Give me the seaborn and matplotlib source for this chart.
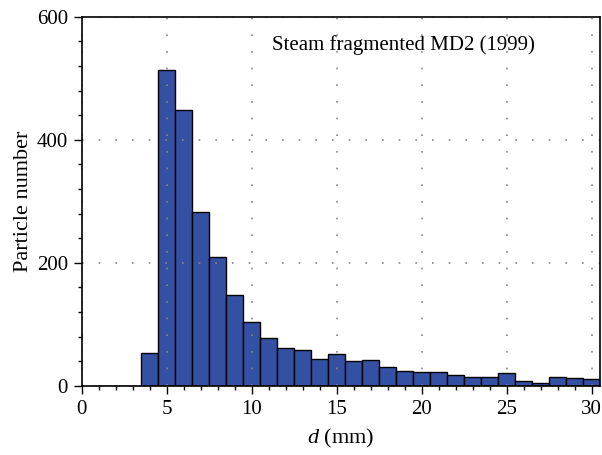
import numpy as np
import pandas as pd
import matplotlib
matplotlib.use("Agg")
import matplotlib.pyplot as plt
from matplotlib.ticker import MultipleLocator
import seaborn as sns

# particle size bins (mm, bin centres) and counts
d_mm = [1, 2, 3, 4, 5, 6, 7, 8, 9, 10, 11, 12, 13, 14, 15,
        16, 17, 18, 19, 20, 21, 22, 23, 24, 25, 26, 27, 28, 29, 30]
counts = [0, 0, 0, 53, 514, 448, 283, 210, 148, 104, 78, 61, 58, 44, 52,
          41, 42, 31, 24, 22, 22, 18, 14, 14, 21, 8, 4, 14, 13, 11]
label = "Steam fragmented MD2 (1999)"

df = pd.DataFrame({"d": d_mm, "n": counts})

sns.set_style("ticks")
plt.rcParams["font.family"] = ["Liberation Serif", "DejaVu Serif"]
plt.rcParams["mathtext.fontset"] = "custom"
plt.rcParams["mathtext.it"] = "Liberation Serif:italic"
plt.rcParams["mathtext.rm"] = "Liberation Serif"
plt.rcParams["text.color"] = "black"
plt.rcParams["axes.labelcolor"] = "black"
plt.rcParams["xtick.labelcolor"] = "black"
plt.rcParams["ytick.labelcolor"] = "black"

fig = plt.figure(figsize=(6.02, 4.55), dpi=100)
ax = fig.add_axes([0.136, 0.152, 0.861, 0.811])

sns.histplot(data=df, x="d", weights="n", discrete=True,
             color="#3450a2", alpha=1, edgecolor="black", linewidth=1.0, ax=ax)

ax.set_xlim(0, 30.5)
ax.set_ylim(0, 600)
ax.xaxis.set_major_locator(MultipleLocator(5))
ax.xaxis.set_minor_locator(MultipleLocator(1))
ax.yaxis.set_major_locator(MultipleLocator(200))
ax.yaxis.set_minor_locator(MultipleLocator(40))
ax.tick_params(which="major", direction="out", length=6, width=1, labelsize=15,
               color="black", labelcolor="black", pad=4)
ax.tick_params(which="minor", direction="out", length=3, width=1, color="black")

ax.set_axisbelow(False)
ax.grid(True, which="major", color="#888888", linestyle=(0, (1, 9)), linewidth=1.2)

for s in ax.spines.values():
    s.set_visible(True)
    s.set_linewidth(1.2)
    s.set_color("black")
    s.set_zorder(5)

ax.set_xlabel(r"$d$ (mm)", fontsize=16, labelpad=6)
ax.set_ylabel("Particle number", fontsize=16, labelpad=3)
ax.text(11.2, 554, label, fontsize=15, va="center")

fig.savefig("out.png", dpi=100)
